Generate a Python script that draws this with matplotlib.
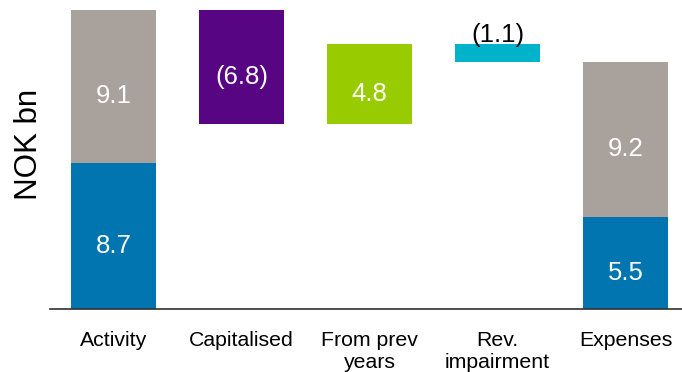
import numpy as np
import matplotlib.pyplot as plt

plt.rcParams['font.family'] = ['Liberation Sans', 'DejaVu Sans']

# data
categories = ['Activity', 'Capitalised', 'From prev\nyears', 'Rev.\nimpairment', 'Expenses']
activity_parts = [8.7, 9.1]        # blue, grey
changes = [-6.8, 4.8, -1.1]        # capitalised, from prev years, rev. impairment
expenses_parts = [5.5, 9.2]        # blue, grey

c_blue, c_grey = '#0075B0', '#A9A29C'
change_colors = ['#580584', '#99CC00', '#00B2CA']

fig = plt.figure(figsize=(6.82, 3.72), dpi=100)
ax = fig.add_axes([50 / 682, 63 / 372, 632 / 682, 309 / 372])

x = np.arange(len(categories))
w = 0.665


def label(xc, y, val, color='white', va='center', dy=-7):
    txt = f'({abs(val):.1f})' if val < 0 else f'{val:.1f}'
    ax.annotate(txt, (xc, y), xytext=(0, dy), textcoords='offset points',
                ha='center', va=va, color=color, fontsize=18.5)


# stacked first bar
bottom = 0
for v, c in zip(activity_parts, [c_blue, c_grey]):
    ax.bar(x[0], v, w, bottom=bottom, color=c)
    label(x[0], bottom + v / 2, v)
    bottom += v

# floating change bars
level = bottom
for i, (v, c) in enumerate(zip(changes, change_colors)):
    lo, hi = min(level, level + v), max(level, level + v)
    ax.bar(x[i + 1], hi - lo, w, bottom=lo, color=c)
    if hi - lo > 2:
        label(x[i + 1], (lo + hi) / 2, v)
    else:
        label(x[i + 1], hi, v, color='black', va='baseline', dy=1.2)
    level += v

# stacked last bar
bottom = 0
for v, c in zip(expenses_parts, [c_blue, c_grey]):
    ax.bar(x[4], v, w, bottom=bottom, color=c)
    label(x[4], bottom + v / 2, v)
    bottom += v

ax.set_xlim(-0.496, 4.44)
ax.set_ylim(0, 18.39)
ax.set_xticks(x)
ax.set_xticklabels(categories, fontsize=15.3, linespacing=1.2)
ax.tick_params(axis='x', length=0, pad=15.5)
ax.set_yticks([])
for s in ['left', 'right', 'top']:
    ax.spines[s].set_visible(False)
ax.spines['bottom'].set_color('#303030')
ax.spines['bottom'].set_linewidth(1.2)
ax.set_ylabel('NOK bn', fontsize=22.5)
ax.yaxis.set_label_coords(-0.0095, 0.534)
ax.patch.set_visible(False)

fig.savefig('out.png', dpi=100)
